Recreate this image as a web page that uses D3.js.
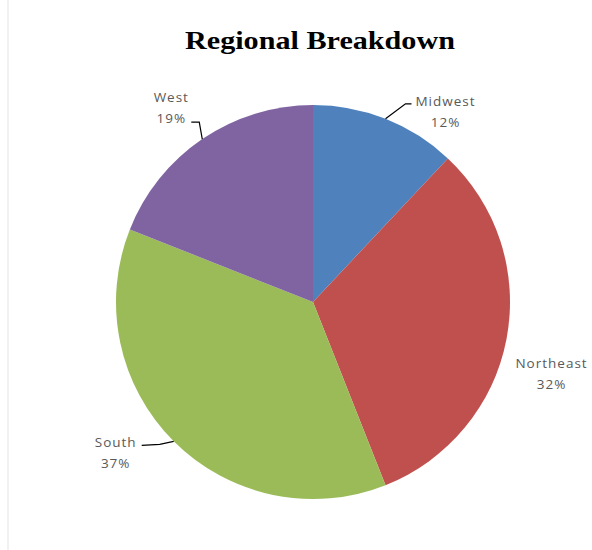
<!DOCTYPE html>
<html>
<head>
<meta charset="utf-8">
<script src="https://cdn.jsdelivr.net/npm/d3@7"></script>
<style>
  body { margin: 0; background: #fff; }
  .label { font-family: "Open Sans", sans-serif; font-size: 13.5px; fill: #595959; letter-spacing: 1px; }
</style>
</head>
<body>
<div id="chart"></div>
<script>
// chart values
var regions = ["Midwest", "Northeast", "South", "West"];
var shares = [12, 32, 37, 19];
var colors = ["#4F81BD", "#C0504D", "#9BBB59", "#8064A2"];

// label placement (relative to where the slice meets the rim)
var labelLayout = {
    "Midwest":   {tx: 60,  ty: -13, leader: [[20, -15], [26, -15]]},
    "Northeast": {tx: 45,  ty: 29,  leader: null},
    "South":     {tx: -58, ty: 6,   leader: [[-14, 3], [-32, 4]]},
    "West":      {tx: -31, ty: -37, leader: [[-3, -17], [-11, -17]]}
};

var width = 592, height = 550;
var cx = 313, cy = 302, radius = 197;

var svg = d3.select("#chart")
    .append("svg")
    .attr("width", width)
    .attr("height", height);

// faint chart-area border on the left
svg.append("line")
    .attr("x1", 8).attr("x2", 8)
    .attr("y1", 0).attr("y2", height)
    .style("stroke", "#e3e3e3")
    .style("stroke-width", 1);

// title
svg.append("text")
    .attr("x", 320)
    .attr("y", 49)
    .attr("text-anchor", "middle")
    .attr("textLength", 270)
    .attr("lengthAdjust", "spacingAndGlyphs")
    .style("font-family", "'Liberation Serif', 'DejaVu Serif', serif")
    .style("font-weight", "bold")
    .style("font-size", "25px")
    .style("fill", "#000")
    .text("Regional Breakdown");

var data = regions.map(function(r, i) {
    return {region: r, value: shares[i], color: colors[i]};
});

var pie = d3.pie()
    .sort(null)
    .value(function(d) { return d.value; });

var arc = d3.arc()
    .innerRadius(0)
    .outerRadius(radius);

var g = svg.append("g")
    .attr("transform", "translate(" + cx + "," + cy + ")");

var arcs = pie(data);

g.selectAll("path")
    .data(arcs)
    .enter()
    .append("path")
    .attr("d", arc)
    .attr("fill", function(d) { return d.data.color; });

// labels and leader lines
arcs.forEach(function(d) {
    var mid = (d.startAngle + d.endAngle) / 2;
    var ex = radius * Math.sin(mid);
    var ey = -radius * Math.cos(mid);
    var lay = labelLayout[d.data.region];

    if (lay.leader) {
        var pts = [[ex, ey]].concat(lay.leader.map(function(p) {
            return [ex + p[0], ey + p[1]];
        }));
        g.append("path")
            .attr("d", d3.line()(pts))
            .attr("fill", "none")
            .style("stroke", "#000")
            .style("stroke-width", 1.2);
    }

    var t = g.append("text")
        .attr("class", "label")
        .attr("text-anchor", "middle")
        .attr("transform", "translate(" + (ex + lay.tx) + "," + (ey + lay.ty) + ")");
    t.append("tspan")
        .attr("x", 0)
        .attr("y", 0)
        .text(d.data.region);
    t.append("tspan")
        .attr("x", 0)
        .attr("y", 21)
        .text(d.data.value + "%");
});
</script>
</body>
</html>
